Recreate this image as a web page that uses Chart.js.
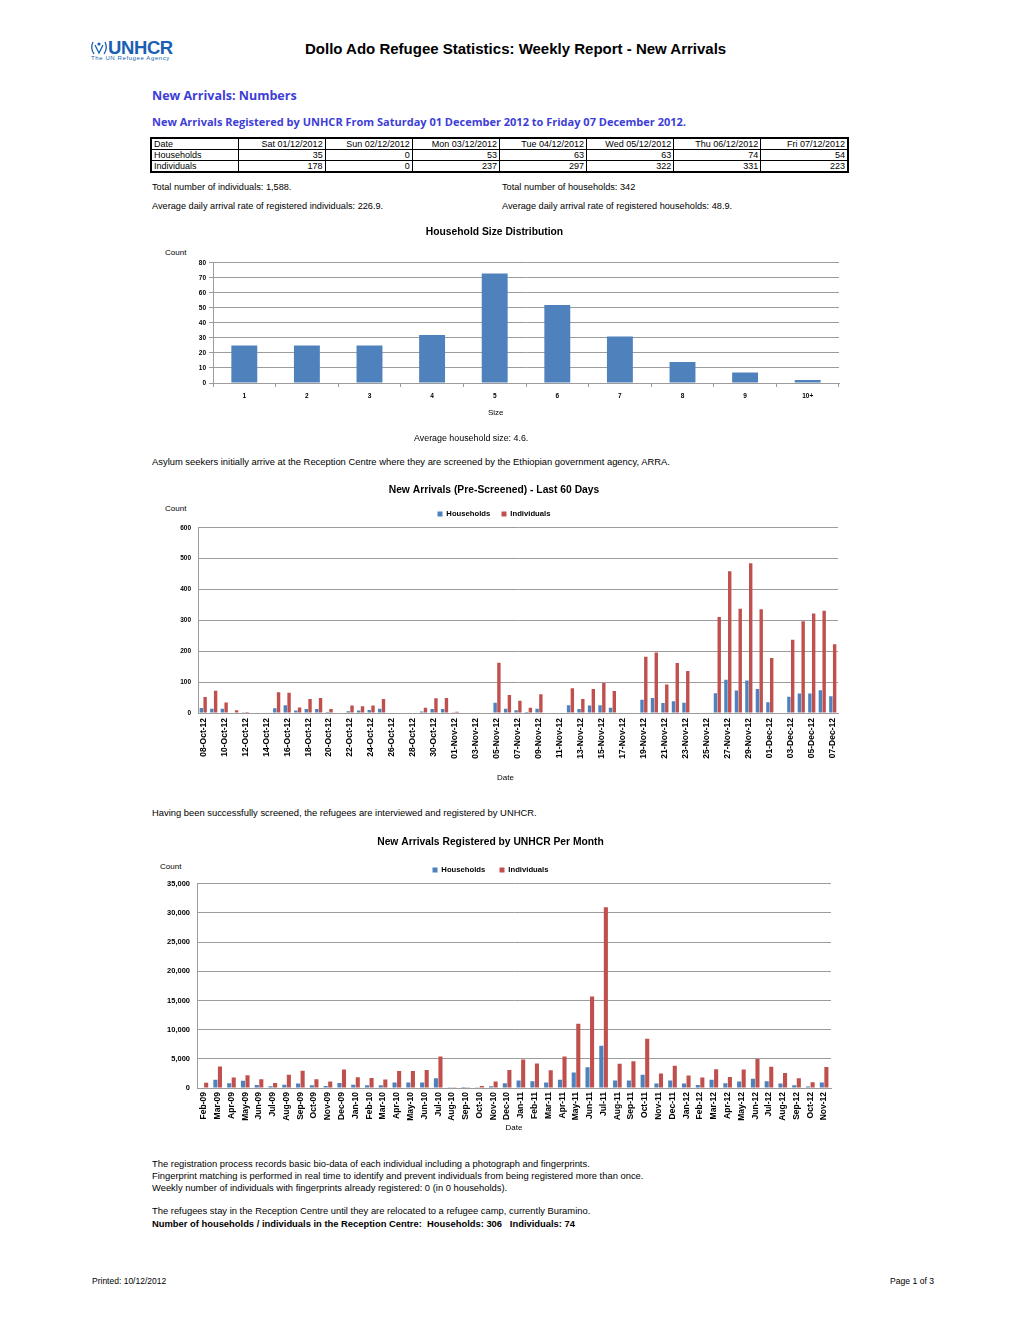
<!DOCTYPE html>
<html><head><meta charset="utf-8">
<script src="https://cdn.jsdelivr.net/npm/chart.js@4.4.0/dist/chart.umd.min.js"></script>
<style>
html,body{margin:0;padding:0;background:#fff;}
body{width:1024px;height:1325px;position:relative;overflow:hidden;font-family:"Liberation Sans",Arial,sans-serif;color:#000;}
.t{position:absolute;white-space:nowrap;line-height:1;}
.b{font-weight:bold;}
.blue{font-family:"Open Sans",sans-serif;font-weight:bold;color:#3d3dd6;}
canvas{position:absolute;}
table{position:absolute;left:150px;top:137px;width:699px;border-collapse:collapse;border:2px solid #000;font-size:9px;table-layout:fixed;}
td{border:1px solid #000;height:10px;padding:0 2px;text-align:right;line-height:10px;overflow:hidden;white-space:nowrap;}
td:first-child{text-align:left;}
</style></head>
<body>
<script>
// ---------- DATA ----------
const tableDates = ['Sat 01/12/2012','Sun 02/12/2012','Mon 03/12/2012','Tue 04/12/2012','Wed 05/12/2012','Thu 06/12/2012','Fri 07/12/2012'];
const tableHouseholds = [35, 0, 53, 63, 63, 74, 54];
const tableIndividuals = [178, 0, 237, 297, 322, 331, 223];

const sizeCategories = ['1','2','3','4','5','6','7','8','9','10+'];
const sizeCounts = [25, 25, 25, 32, 73, 52, 31, 14, 7, 2];

const dailyDates = [
 '08-Oct-12','09-Oct-12','10-Oct-12','11-Oct-12','12-Oct-12','13-Oct-12','14-Oct-12','15-Oct-12','16-Oct-12','17-Oct-12',
 '18-Oct-12','19-Oct-12','20-Oct-12','21-Oct-12','22-Oct-12','23-Oct-12','24-Oct-12','25-Oct-12','26-Oct-12','27-Oct-12',
 '28-Oct-12','29-Oct-12','30-Oct-12','31-Oct-12','01-Nov-12','02-Nov-12','03-Nov-12','04-Nov-12','05-Nov-12','06-Nov-12',
 '07-Nov-12','08-Nov-12','09-Nov-12','10-Nov-12','11-Nov-12','12-Nov-12','13-Nov-12','14-Nov-12','15-Nov-12','16-Nov-12',
 '17-Nov-12','18-Nov-12','19-Nov-12','20-Nov-12','21-Nov-12','22-Nov-12','23-Nov-12','24-Nov-12','25-Nov-12','26-Nov-12',
 '27-Nov-12','28-Nov-12','29-Nov-12','30-Nov-12','01-Dec-12','02-Dec-12','03-Dec-12','04-Dec-12','05-Dec-12','06-Dec-12',
 '07-Dec-12'];
const dailyHouseholds = [
 16,14,14,2,1,0,0,15,25,8,
 13,13,3,0,6,8,10,14,0,0,
 0,5,13,13,1,0,0,0,33,14,
 9,3,14,0,0,25,13,24,25,17,
 0,0,43,49,32,38,33,0,0,64,
 108,73,105,78,35,0,53,63,63,74,
 54];
const dailyIndividuals = [
 52,72,34,9,3,0,0,67,66,18,
 45,49,13,0,24,22,24,45,0,0,
 0,17,48,49,4,0,0,0,163,58,
 40,17,61,0,0,80,45,78,97,71,
 0,0,182,196,92,162,136,0,0,311,
 459,338,485,336,178,0,237,297,322,331,
 223];

const monthLabels = [
 'Feb-09','Mar-09','Apr-09','May-09','Jun-09','Jul-09','Aug-09','Sep-09','Oct-09','Nov-09','Dec-09',
 'Jan-10','Feb-10','Mar-10','Apr-10','May-10','Jun-10','Jul-10','Aug-10','Sep-10','Oct-10','Nov-10','Dec-10',
 'Jan-11','Feb-11','Mar-11','Apr-11','May-11','Jun-11','Jul-11','Aug-11','Sep-11','Oct-11','Nov-11','Dec-11',
 'Jan-12','Feb-12','Mar-12','Apr-12','May-12','Jun-12','Jul-12','Aug-12','Sep-12','Oct-12','Nov-12'];
const monthHouseholds = [
 100,1400,800,1250,500,300,550,750,450,350,850,
 550,450,450,950,950,950,1650,30,20,40,300,800,
 1300,1150,950,1400,2650,3550,7250,1300,1300,2250,750,1300,
 750,500,1400,800,1100,1600,1150,750,450,250,950];
const monthIndividuals = [
 900,3700,1800,2200,1500,850,2250,2950,1500,1100,3150,
 1850,1700,1450,2900,2900,3100,5400,60,40,350,1100,3100,
 4900,4200,3050,5400,11000,15700,31000,4150,4600,8450,2500,3800,
 2150,1800,3200,1900,3150,4950,3650,2550,1650,1000,3600];

const seriesNames = ['Households','Individuals'];
const histYTicks = {max: 80, step: 10};
const dailyYTicks = {max: 600, step: 100};
const monthYTicks = {max: 35000, step: 5000};
</script>

<!-- header -->
<svg style="position:absolute;left:89px;top:39px" width="20" height="20" viewBox="0 0 20 20">
 <g fill="none" stroke="#1a5fb4" stroke-width="1.3">
  <path d="M4 3 Q1 9 5 15"/><path d="M16 3 Q19 9 15 15"/>
  <path d="M6 6 L10 14 L14 6"/>
 </g>
 <circle cx="10" cy="5" r="1.6" fill="#1a5fb4"/>
</svg>
<div class="t b" style="left:108px;top:39px;font-size:18.5px;color:#1a5fb4;letter-spacing:-0.4px">UNHCR</div>
<div class="t" style="left:91px;top:55px;font-size:6px;color:#1a5fb4;letter-spacing:0.6px">The UN Refugee Agency</div>
<div class="t b" style="left:305px;top:40.5px;font-size:15px">Dollo Ado Refugee Statistics: Weekly Report - New Arrivals</div>

<div class="t blue" style="left:152px;top:89.5px;font-size:12.5px">New Arrivals: Numbers</div>
<div class="t blue" style="left:152px;top:115.5px;font-size:11px">New Arrivals Registered by UNHCR From Saturday 01 December 2012 to Friday 07 December 2012.</div>

<table id="tbl"></table>

<div class="t" style="left:152px;top:182.5px;font-size:9.2px">Total number of individuals: 1,588.</div>
<div class="t" style="left:502px;top:182.5px;font-size:9.2px">Total number of households: 342</div>
<div class="t" style="left:152px;top:201.5px;font-size:9.2px">Average daily arrival rate of registered individuals: 226.9.</div>
<div class="t" style="left:502px;top:201.5px;font-size:9.2px">Average daily arrival rate of registered households: 48.9.</div>

<div class="t" style="left:165px;top:249px;font-size:8px">Count</div>
<canvas id="c1" style="left:150px;top:222px;width:700px;height:203px" width="700" height="203"></canvas>
<div class="t" style="left:488px;top:409px;font-size:8px">Size</div>
<div class="t" style="left:414px;top:433.5px;font-size:8.9px">Average household size: 4.6.</div>

<div class="t" style="left:152px;top:457.3px;font-size:9.4px">Asylum seekers initially arrive at the Reception Centre where they are screened by the Ethiopian government agency, ARRA.</div>

<div class="t" style="left:165px;top:505px;font-size:8px">Count</div>
<canvas id="c2" style="left:150px;top:480px;width:700px;height:310px" width="700" height="310"></canvas>
<div class="t" style="left:497px;top:774px;font-size:8px">Date</div>

<div class="t" style="left:152px;top:808.3px;font-size:9.4px">Having been successfully screened, the refugees are interviewed and registered by UNHCR.</div>

<div class="t" style="left:160px;top:863px;font-size:8px">Count</div>
<canvas id="c3" style="left:150px;top:832px;width:700px;height:305px" width="700" height="305"></canvas>

<div class="t" style="left:152px;top:1159.3px;font-size:9.4px">The registration process records basic bio-data of each individual including a photograph and fingerprints.</div>
<div class="t" style="left:152px;top:1171.3px;font-size:9.4px">Fingerprint matching is performed in real time to identify and prevent individuals from being registered more than once.</div>
<div class="t" style="left:152px;top:1183.3px;font-size:9.4px">Weekly number of individuals with fingerprints already registered: 0 (in 0 households).</div>
<div class="t" style="left:152px;top:1206.3px;font-size:9.4px">The refugees stay in the Reception Centre until they are relocated to a refugee camp, currently Buramino.</div>
<div class="t b" style="left:152px;top:1219.3px;font-size:9.4px">Number of households / individuals in the Reception Centre:&nbsp; Households: 306&nbsp;&nbsp; Individuals: 74</div>

<div class="t" style="left:92px;top:1276.7px;font-size:8.5px">Printed: 10/12/2012</div>
<div class="t" style="left:934px;top:1276.7px;font-size:8.6px;transform:translateX(-100%)">Page 1 of 3</div>

<script>
// table
(function(){
  const t = document.getElementById('tbl');
  let h = '<colgroup><col style="width:87px">' + tableDates.map(()=>'<col>').join('') + '</colgroup>';
  h += '<tr><td>Date</td>' + tableDates.map(d=>'<td>'+d+'</td>').join('') + '</tr>';
  h += '<tr><td>Households</td>' + tableHouseholds.map(v=>'<td>'+v+'</td>').join('') + '</tr>';
  h += '<tr><td>Individuals</td>' + tableIndividuals.map(v=>'<td>'+v+'</td>').join('') + '</tr>';
  t.innerHTML = h;
})();

const FONT = '"Liberation Sans", Arial, sans-serif';
const GRID = '#9c9c9c';
const BLUE = '#4f81bd', RED = '#c0504d';
Chart.defaults.font.family = FONT;
Chart.defaults.color = '#000';

function titleOpt(text, pt, pb){
  return {display:true, text:text, font:{size:10.3, weight:'bold', family:FONT}, color:'#000', padding:{top:pt, bottom:pb}};
}
function legendOpt(p){
  return {display:true, position:'top', labels:{boxWidth:5, boxHeight:5, padding:p, font:{size:7.7, weight:'bold', family:FONT}, color:'#000'}};
}

// Chart 1
new Chart(document.getElementById('c1'), {
  type:'bar',
  data:{labels:sizeCategories, datasets:[{label:'Count', data:sizeCounts, backgroundColor:BLUE, barPercentage:0.9, categoryPercentage:0.46}]},
  options:{
    responsive:false, animation:false, devicePixelRatio:1,
    layout:{padding:{left:0,right:11,top:0,bottom:0}},
    plugins:{legend:{display:false}, tooltip:{enabled:false}, title:titleOpt('Household Size Distribution',3.8,24.8)},
    scales:{
      x:{grid:{display:true, drawOnChartArea:false, tickLength:4, color:GRID}, border:{color:GRID},
         ticks:{font:{size:6.5, weight:'bold'}, padding:5, maxRotation:0},
         afterFit:(s)=>{s.height=42;}},
      y:{min:0, max:histYTicks.max, grid:{color:GRID, tickLength:4}, border:{color:GRID},
         ticks:{stepSize:histYTicks.step, font:{size:6.5, weight:'bold'}, padding:3},
         afterFit:(s)=>{s.width=63;}}
    }
  }
});

// Chart 2
new Chart(document.getElementById('c2'), {
  type:'bar',
  data:{labels:dailyDates, datasets:[
    {label:seriesNames[0], data:dailyHouseholds, backgroundColor:BLUE, barPercentage:0.9, categoryPercentage:0.72},
    {label:seriesNames[1], data:dailyIndividuals, backgroundColor:RED, barPercentage:0.9, categoryPercentage:0.72}]},
  options:{
    responsive:false, animation:false, devicePixelRatio:1,
    layout:{padding:{left:0,right:12,top:0,bottom:0}},
    plugins:{legend:legendOpt(11.15), tooltip:{enabled:false}, title:titleOpt('New Arrivals (Pre-Screened) - Last 60 Days',3.8,2.8)},
    scales:{
      x:{grid:{display:false, drawTicks:false}, border:{color:GRID},
         ticks:{autoSkip:false, maxRotation:90, minRotation:90, font:{size:8.5, weight:'bold'}, padding:5,
           callback:function(v,i){return i%2===0 ? this.getLabelForValue(v) : '';}},
         afterFit:(s)=>{s.height=77;}},
      y:{min:0, max:dailyYTicks.max, grid:{color:GRID, drawTicks:false}, border:{color:GRID},
         ticks:{stepSize:dailyYTicks.step, font:{size:6.5, weight:'bold'}, padding:7},
         afterFit:(s)=>{s.width=48;}}
    }
  }
});

// Chart 3
new Chart(document.getElementById('c3'), {
  type:'bar',
  data:{labels:monthLabels, datasets:[
    {label:seriesNames[0], data:monthHouseholds, backgroundColor:BLUE, barPercentage:0.9, categoryPercentage:0.66},
    {label:seriesNames[1], data:monthIndividuals, backgroundColor:RED, barPercentage:0.9, categoryPercentage:0.66}]},
  options:{
    responsive:false, animation:false, devicePixelRatio:1,
    layout:{padding:{left:0,right:19,top:0,bottom:0}},
    plugins:{legend:legendOpt(14.15), tooltip:{enabled:false}, title:titleOpt('New Arrivals Registered by UNHCR Per Month',3.8,3.8)},
    scales:{
      x:{grid:{display:false, drawTicks:false}, border:{color:GRID},
         ticks:{autoSkip:false, maxRotation:90, minRotation:90, font:{size:8.5, weight:'bold'}, padding:4},
         title:{display:true, text:'Date', font:{size:8}, padding:{top:0,bottom:4.2}},
         afterFit:(s)=>{s.height=49;}},
      y:{min:0, max:monthYTicks.max, grid:{color:GRID, drawTicks:false}, border:{color:GRID},
         ticks:{stepSize:monthYTicks.step, font:{size:7.5, weight:'bold'}, padding:7,
           callback:(v)=>v.toLocaleString('en-US')},
         afterFit:(s)=>{s.width=47;}}
    }
  }
});
</script>
</body></html>
